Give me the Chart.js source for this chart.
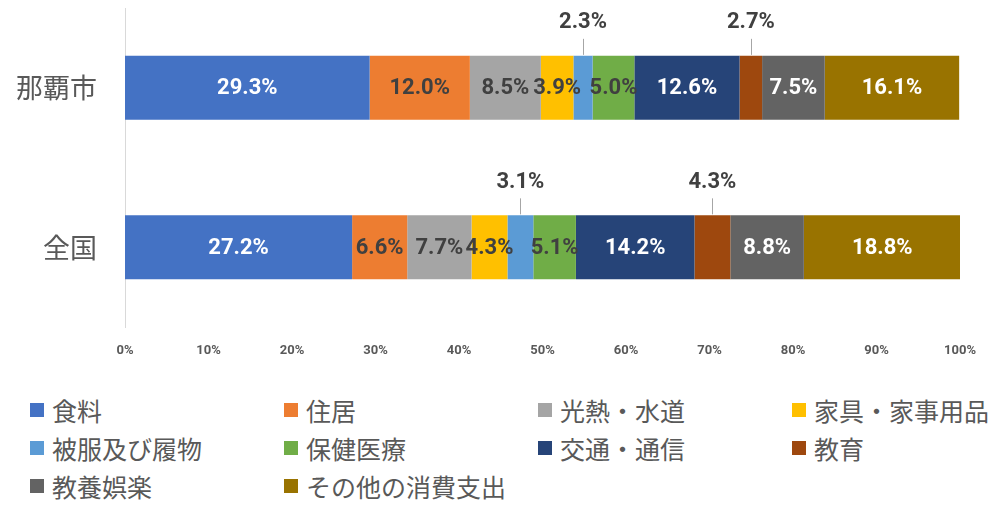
<!DOCTYPE html>
<html lang="ja">
<head>
<meta charset="utf-8">
<script src="https://cdn.jsdelivr.net/npm/chart.js@4/dist/chart.umd.min.js"></script>
<style>
  body { margin: 0; background: #fff; }
  #wrap { position: relative; width: 1005px; height: 513px; }
  #chartBox { position: absolute; left: 0; top: 0; width: 1005px; height: 370px; }
  #legend {
    position: absolute; left: 30px; top: 391px;
    display: grid; grid-template-columns: repeat(4, 254px);
    grid-auto-rows: 38px;
    font-family: "Noto Sans CJK JP", sans-serif; font-size: 25px; color: #595959;
  }
  .item { display: flex; align-items: center; white-space: nowrap; }
  .box { width: 14px; height: 14px; margin-right: 8px; flex: none; }
</style>
</head>
<body>
<div id="wrap">
  <div id="chartBox"><canvas id="kakeiChart"></canvas></div>
  <div id="legend"></div>
</div>
<script>
// 地域
const regions = ['那覇市', '全国'];
// 費目
const items = ['食料', '住居', '光熱・水道', '家具・家事用品', '被服及び履物',
               '保健医療', '交通・通信', '教育', '教養娯楽', 'その他の消費支出'];
// 構成比 (%)
const nahaShare = [29.3, 12.0, 8.5, 3.9, 2.3, 5.0, 12.6, 2.7, 7.5, 16.1];
const zenkokuShare = [27.2, 6.6, 7.7, 4.3, 3.1, 5.1, 14.2, 4.3, 8.8, 18.8];
const xTicks = [0, 10, 20, 30, 40, 50, 60, 70, 80, 90, 100];

const colors = ['#4472C4', '#ED7D31', '#A5A5A5', '#FFC000', '#5B9BD5',
                '#70AD47', '#264478', '#9E480E', '#636363', '#997300'];
const labelColors = ['#fff', '#404040', '#404040', '#404040', '#404040',
                     '#404040', '#fff', '#fff', '#fff', '#fff'];
// 小さい値はバーの上にラベル（引き出し線付き）
const outsideLabel = [false, false, false, false, true, false, false, true, false, false];

// データラベル描画
const valueLabels = {
    id: 'valueLabels',
    afterDatasetsDraw(chart) {
        const ctx = chart.ctx;
        ctx.save();
        ctx.font = 'bold 22px Roboto';
        ctx.textAlign = 'center';
        ctx.textBaseline = 'middle';
        chart.data.datasets.forEach((ds, i) => {
            const meta = chart.getDatasetMeta(i);
            meta.data.forEach((bar, j) => {
                const v = ds.data[j];
                const text = v.toFixed(1) + '%';
                const cx = (bar.x + bar.base) / 2;
                if (outsideLabel[i]) {
                    const top = bar.y - bar.height / 2;
                    ctx.strokeStyle = '#A6A6A6';
                    ctx.lineWidth = 1;
                    ctx.beginPath();
                    ctx.moveTo(Math.round(cx) + 0.5, top - 1);
                    ctx.lineTo(Math.round(cx) + 0.5, top - 17);
                    ctx.stroke();
                    ctx.fillStyle = '#404040';
                    ctx.fillText(text, cx, top - 33);
                } else {
                    ctx.fillStyle = labelColors[i];
                    ctx.fillText(text, cx, bar.y + 1);
                }
            });
        });
        ctx.restore();
    }
};

document.addEventListener('DOMContentLoaded', function() {
    const ctx = document.getElementById('kakeiChart').getContext('2d');
    const datasets = items.map((name, i) => ({
        label: name,
        data: [nahaShare[i], zenkokuShare[i]],
        backgroundColor: colors[i],
        borderWidth: 0,
        barPercentage: 0.4,
        categoryPercentage: 1.0
    }));

    const chart = new Chart(ctx, {
        type: 'bar',
        data: { labels: regions, datasets: datasets },
        options: {
            indexAxis: 'y',
            responsive: true,
            maintainAspectRatio: false,
            animation: false,
            layout: { padding: { top: 8, right: 45, bottom: 0, left: 0 } },
            plugins: {
                legend: { display: false },
                tooltip: { enabled: false }
            },
            scales: {
                x: {
                    stacked: true,
                    min: 0,
                    max: 100,
                    afterBuildTicks: (scale) => { scale.ticks = xTicks.map(v => ({ value: v })); },
                    afterFit: (scale) => { scale.height = 43; },
                    grid: { display: false },
                    border: { display: false },
                    ticks: {
                        padding: 8,
                        maxRotation: 0,
                        color: '#595959',
                        font: { family: 'Roboto', size: 13, weight: 'bold' },
                        callback: (v) => v + '%'
                    }
                },
                y: {
                    stacked: true,
                    afterFit: (scale) => {
                        scale.width = 125;
                        // ラベル余白が上下に効かないように
                        scale.paddingTop = 0;
                        scale.paddingBottom = 0;
                    },
                    grid: { display: false },
                    border: { display: true, color: '#D9D9D9', width: 1 },
                    ticks: {
                        padding: 20,
                        color: '#595959',
                        font: { family: 'Noto Sans CJK JP', size: 27 }
                    }
                }
            }
        },
        plugins: [valueLabels]
    });

    // 凡例（4列）
    const legend = document.getElementById('legend');
    items.forEach((name, i) => {
        const el = document.createElement('div');
        el.className = 'item';
        el.innerHTML = '<span class="box" style="background:' + colors[i] + '"></span>' + name;
        legend.appendChild(el);
    });
});
</script>
</body>
</html>
